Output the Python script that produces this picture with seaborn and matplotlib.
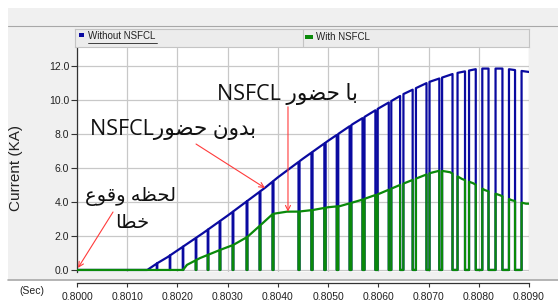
import numpy as np
import pandas as pd
import matplotlib
matplotlib.use("Agg")
import matplotlib.pyplot as plt
from matplotlib.patches import Rectangle
from matplotlib.lines import Line2D
import seaborn as sns

# envelope of the current without the limiter (s, kA)
t_without = [0.8000, 0.80140, 0.80160, 0.80180, 0.80200, 0.80250, 0.80300, 0.80350,
             0.80375, 0.80400, 0.80450, 0.80500, 0.80550, 0.80600, 0.80650, 0.80700,
             0.80750, 0.80800, 0.80850, 0.80900]
i_without = [0.0, 0.0, 0.4, 0.75, 1.15, 2.15, 3.2, 4.3,
             4.85, 5.45, 6.55, 7.6, 8.6, 9.5, 10.35, 11.05,
             11.55, 11.85, 11.85, 11.65]

# envelope of the current with the limiter
t_with = [0.8000, 0.80211, 0.80219, 0.80245, 0.80285, 0.80311, 0.80339, 0.80364,
          0.80390, 0.80418, 0.80440, 0.80470, 0.80500, 0.80524, 0.80564, 0.80603,
          0.80643, 0.80677, 0.80703, 0.80723, 0.80743, 0.80767, 0.80789, 0.80812,
          0.80842, 0.80866, 0.80894, 0.80900]
i_with = [0.0, 0.0, 0.3, 0.7, 1.18, 1.47, 1.94, 2.6,
          3.3, 3.43, 3.43, 3.53, 3.69, 3.76, 4.1, 4.5,
          5.0, 5.4, 5.7, 5.85, 5.75, 5.35, 5.1, 4.7,
          4.4, 4.1, 3.9, 3.9]

# switching notches (centre time, width) shared by both traces
dip_times = [0.801593, 0.801852, 0.802111, 0.802370, 0.802609, 0.802847, 0.803106,
             0.803385, 0.803644, 0.803903, 0.804421, 0.804679, 0.804938, 0.805187,
             0.805446, 0.805705, 0.805964, 0.806233, 0.806466, 0.806716, 0.806989,
             0.807242, 0.807527, 0.807766, 0.808005, 0.808264, 0.808536, 0.808787]
dip_widths = [0.000010, 0.000010, 0.000010, 0.000012, 0.000012, 0.000014, 0.000014,
              0.000016, 0.000016, 0.000018, 0.000020, 0.000022, 0.000025, 0.000030,
              0.000035, 0.000040, 0.000045, 0.000050, 0.000065, 0.000065, 0.000060,
              0.000055, 0.000100, 0.000080, 0.000130, 0.000140, 0.000130, 0.000130]

x_ticks = [0.8000, 0.8010, 0.8020, 0.8030, 0.8040, 0.8050, 0.8060, 0.8070, 0.8080, 0.8090]
y_ticks = [0.0, 2.0, 4.0, 6.0, 8.0, 10.0, 12.0]


def chopped(t_env, i_env, starts, widths):
    # envelope with the notches cut down to zero
    rows = []
    edges = [(c - w / 2, c + w / 2) for c, w in zip(starts, widths)]
    pts = list(zip(t_env, i_env))
    k = 0
    for s, e in edges:
        while k < len(pts) and pts[k][0] < s:
            rows.append(pts[k])
            k += 1
        v_s = np.interp(s, t_env, i_env)
        v_e = np.interp(e, t_env, i_env)
        rows += [(s, v_s), (s, 0.0), (e, 0.0), (e, v_e)]
        while k < len(pts) and pts[k][0] <= e:
            k += 1
    rows += pts[k:]
    return pd.DataFrame(rows, columns=["time", "current"])


df_without = chopped(t_without, i_without, dip_times, dip_widths)
df_with = chopped(t_with, i_with, dip_times, dip_widths)

sns.set_theme(style="white")
plt.rcParams["font.family"] = ["Liberation Sans", "DejaVu Sans"]

W, H = 558, 302
fig = plt.figure(figsize=(W / 100, H / 100), dpi=100, facecolor="white")

# grey panel behind the graph
fig.patches.append(Rectangle((8 / W, 1 - 280 / H), 1 - 8 / W, 272 / H,
                             transform=fig.transFigure, facecolor="#f0f0f0",
                             edgecolor="none", zorder=-2))
fig.lines.append(Line2D([8 / W, 1], [1 - 26 / H] * 2, transform=fig.transFigure,
                        color="#a8a8a8", lw=0.8, zorder=-1))
fig.lines.append(Line2D([8 / W, 1], [1 - 280 / H] * 2, transform=fig.transFigure,
                        color="#a8a8a8", lw=1.2, zorder=-1))

ax = fig.add_axes([77 / W, 1 - 272 / H, 452 / W, 224 / H])
ax.set_facecolor("white")

sns.lineplot(data=df_without, x="time", y="current", ax=ax, sort=False,
             estimator=None, color="#0a0aa0", lw=1.6, zorder=3)
sns.lineplot(data=df_with, x="time", y="current", ax=ax, sort=False,
             estimator=None, color="#0a8a0a", lw=1.6, zorder=4)

ax.set_xlim(0.8000, 0.8090)
ax.set_ylim(-0.12, 13.06)
ax.set_xticks(x_ticks)
ax.set_xticklabels([f"{v:.4f}" for v in x_ticks])
ax.set_yticks(y_ticks)
ax.set_yticklabels([f"{v:.1f}" for v in y_ticks])
ax.grid(True, color="#c8c8c8", lw=0.9)
ax.set_axisbelow(True)
for side in ["top", "right"]:
    ax.spines[side].set_visible(False)
ax.spines["left"].set_color("#333333")
ax.spines["left"].set_linewidth(0.9)
ax.spines["bottom"].set_position(("outward", 8))
ax.spines["bottom"].set_color("#333333")
ax.spines["bottom"].set_linewidth(0.9)
ax.tick_params(axis="y", direction="out", length=4, width=0.8, pad=1.5,
               color="#333333", labelsize=7.5, labelcolor="#222222", left=True)
ax.tick_params(axis="x", direction="out", length=3, width=0.8, pad=3.5,
               color="#333333", labelsize=7.5, labelcolor="#222222", bottom=True)
ax.set_xlabel("")
ax.set_ylabel("")

fig.text(16 / W, 1 - 168 / H, "Current (KA)", rotation=90, ha="center", va="center",
         fontsize=11, color="#222222")
fig.text(32 / W, 1 - 291 / H, "(Sec)", ha="center", va="center", fontsize=7.5,
         color="#222222")

# legend strip
lg = fig.add_axes([75 / W, 1 - 47 / H, 454 / W, 18 / H])
lg.set_xlim(0, 454)
lg.set_ylim(18, 0)
lg.set_facecolor("#ececec")
lg.set_xticks([])
lg.set_yticks([])
for sp in lg.spines.values():
    sp.set_color("#c4c4c4")
    sp.set_linewidth(0.8)
lg.axvline(228, color="#c4c4c4", lw=0.8)
lg.add_patch(Rectangle((4, 4), 5, 4, facecolor="#0a0aa0", edgecolor="none"))
lg.text(13, 7, "Without NSFCL", fontsize=7, va="center", ha="left", color="#222222")
lg.plot([13, 82], [14, 14], color="#222222", lw=0.6)
lg.add_patch(Rectangle((230, 6), 8, 4, facecolor="#0a8a0a", edgecolor="none"))
lg.text(241, 8, "With NSFCL", fontsize=7, va="center", ha="left", color="#222222")

# annotations
fam = ["Open Sans", "DejaVu Sans"]
txt_with = "NSFCL \uFEAD\uFEEE\uFEC0\uFEA3 \uFE8E\uFE91"
txt_without = "NSFCL\uFEAD\uFEEE\uFEC0\uFEA3 \uFEE5\uFEED\uFEAA\uFE91"
txt_fault1 = "\uFEC9\uFEEE\uFED7\uFEED \uFEEA\uFEC8\uFEA4\uFEDF"
txt_fault2 = "\uFE8E\uFEC4\uFEA7"
ax.text(0.804182, 10.35, txt_with, family=fam, fontsize=15.5, ha="center",
        va="center", color="#111111", zorder=6)
ax.text(0.801912, 8.24, txt_without, family=fam, fontsize=15.5, ha="center",
        va="center", color="#111111", zorder=6)
ax.text(0.801075, 4.35, txt_fault1, family=fam, fontsize=14, ha="center",
        va="center", color="#111111", zorder=6)
ax.text(0.801095, 2.76, txt_fault2, family=fam, fontsize=14, ha="center",
        va="center", color="#111111", zorder=6)

arrow = dict(arrowstyle="->", color="#ff3b3b", lw=0.8, shrinkA=0, shrinkB=0,
             mutation_scale=9)
ax.annotate("", xy=(0.803744, 4.82), xytext=(0.802370, 7.41), arrowprops=arrow, zorder=7)
ax.annotate("", xy=(0.804201, 3.43), xytext=(0.804201, 9.6), arrowprops=arrow, zorder=7)
ax.annotate("", xy=(0.80002, 0.12), xytext=(0.800717, 3.41), arrowprops=arrow, zorder=7)

fig.savefig("out.png", dpi=100, facecolor="white")
